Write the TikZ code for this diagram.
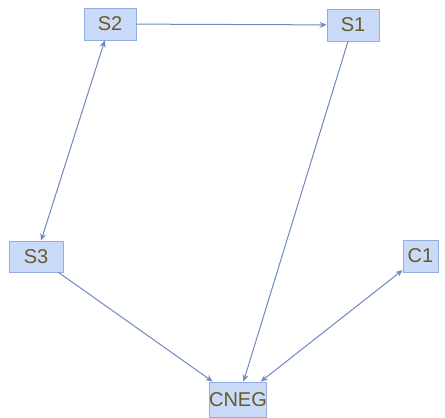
\documentclass[tikz,border=0pt]{standalone}
\usepackage{fontspec}
\setmainfont{Liberation Sans}
\usetikzlibrary{arrows.meta}
\definecolor{boxfill}{HTML}{C9DBF8}
\definecolor{boxline}{HTML}{93AEDC}
\definecolor{txt}{HTML}{6B5A28}
\definecolor{edge}{HTML}{7088C0}
\tikzset{
  statebox/.style={draw=boxline, line width=0.9pt, fill=boxfill, inner sep=0pt,
    text=txt, font=\fontsize{20}{20}\selectfont},
  conn/.style={draw=edge, line width=1pt},
  tip/.tip={Stealth[length=7pt,width=6pt]}
}
\begin{document}
\begin{tikzpicture}[x=1pt,y=-1pt]
\useasboundingbox (0,0) rectangle (445,418);
\node[statebox, minimum width=52pt, minimum height=32pt] (S2) at (110,24) {S2};
\node[statebox, minimum width=52pt, minimum height=32pt] (S1) at (353,25) {S1};
\node[statebox, minimum width=54pt, minimum height=31pt] (S3) at (36,256.5) {S3};
\node[statebox, minimum width=35pt, minimum height=32pt] (C1) at (420.5,256) {C1};
\node[statebox, minimum width=52pt, minimum height=35pt] (CNEG) at (238,399.5) {CNEG};
\draw[conn, -tip] (S2) -- (S1);
\draw[conn, tip-tip] (S2) -- (S3);
\draw[conn, -tip] (S1) -- (CNEG);
\draw[conn, -tip] (S3) -- (CNEG);
\draw[conn, tip-tip] (C1) -- (CNEG);
\end{tikzpicture}
\end{document}
